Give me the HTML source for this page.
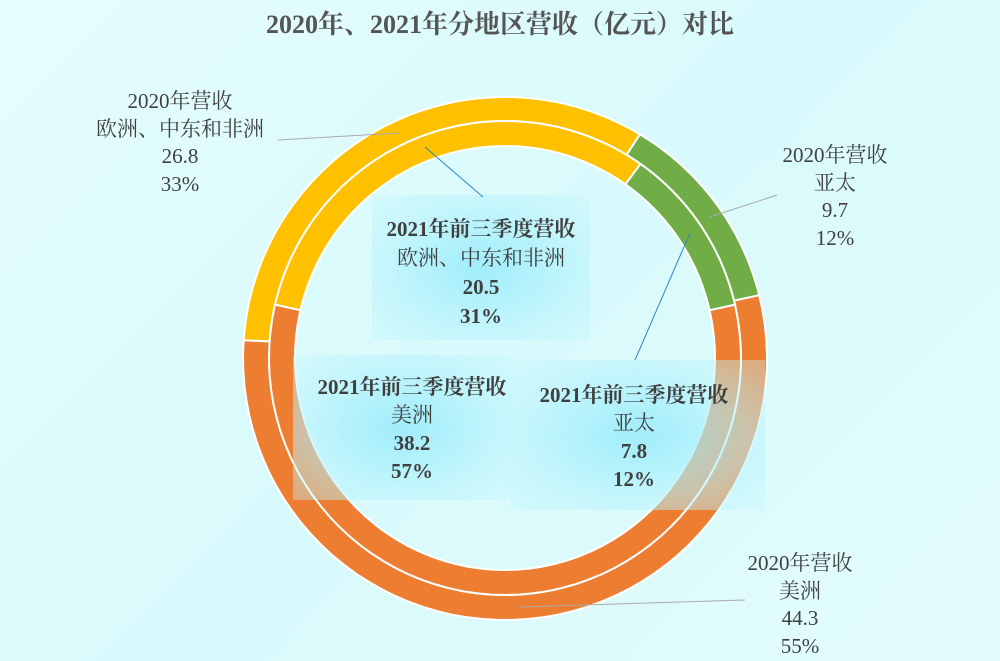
<!DOCTYPE html>
<html><head><meta charset="utf-8"><style>
html,body{margin:0;padding:0;}
body{width:1000px;height:661px;overflow:hidden;position:relative;background:linear-gradient(135deg,#e6fdfd 0%,#d8fafc 50%,#e4fcfd 100%);font-family:"Liberation Serif","Noto Serif CJK SC",serif;color:#404040;}
.t{position:absolute;text-align:center;font-size:21px;line-height:27.5px;white-space:nowrap;}
.b{font-weight:bold;}
.glow{position:absolute;background:radial-gradient(ellipse at center,rgba(150,235,250,0.85) 0%,rgba(180,242,252,0.6) 60%,rgba(200,248,252,0.35) 100%);}
</style></head><body>
<svg id="s" width="1000" height="661" style="position:absolute;left:0;top:0"></svg>
<div class="glow" style="left:372px;top:195px;width:218px;height:145px"></div>
<div class="glow" style="left:293px;top:355px;width:218px;height:145px"></div>
<div class="glow" style="left:510px;top:360px;width:255px;height:150px"></div>
<svg width="1000" height="661" style="position:absolute;left:0;top:0">
<line x1="278" y1="140" x2="400" y2="133" stroke="#aaa" stroke-width="1"/>
<line x1="425" y1="147" x2="483" y2="197" stroke="#2e86c8" stroke-width="1"/>
<line x1="710" y1="217" x2="777" y2="195" stroke="#aaa" stroke-width="1"/>
<line x1="690" y1="233" x2="635" y2="360" stroke="#2e86c8" stroke-width="1"/>
<line x1="520" y1="607" x2="745" y2="600" stroke="#aaa" stroke-width="1"/>
</svg>
<div class="t b" style="left:0;width:1000px;top:9px;font-size:26px;line-height:32px;color:#555">2020年、2021年分地区营收（亿元）对比</div>
<div class="t" style="left:60px;width:240px;top:88px">2020年营收<br>欧洲、中东和非洲<br>26.8<br>33%</div>
<div class="t" style="left:735px;width:200px;top:142px">2020年营收<br>亚太<br>9.7<br>12%</div>
<div class="t" style="left:700px;width:200px;top:550px">2020年营收<br>美洲<br>44.3<br>55%</div>
<div class="t b" style="left:361px;width:240px;top:215px;line-height:29px">2021年前三季度营收<br><span style="font-weight:normal">欧洲、中东和非洲</span><br>20.5<br>31%</div>
<div class="t b" style="left:292px;width:240px;top:373px;line-height:28px">2021年前三季度营收<br><span style="font-weight:normal">美洲</span><br>38.2<br>57%</div>
<div class="t b" style="left:514px;width:240px;top:381px;line-height:28px">2021年前三季度营收<br><span style="font-weight:normal">亚太</span><br>7.8<br>12%</div>
<script>
(function(){
var s=document.getElementById('s');
function pt(cx,cy,rx,ry,a){var r=a*Math.PI/180;return [cx+rx*Math.sin(r),cy-ry*Math.cos(r)];}
function seg(o,i,a0,a1,col){
 var n=60,d='',k,p;
 for(k=0;k<=n;k++){p=pt(o[0],o[1],o[2],o[3],a0+(a1-a0)*k/n);d+=(k?'L':'M')+p[0].toFixed(1)+','+p[1].toFixed(1);}
 for(k=n;k>=0;k--){p=pt(i[0],i[1],i[2],i[3],a0+(a1-a0)*k/n);d+='L'+p[0].toFixed(1)+','+p[1].toFixed(1);}
 d+='Z';
 var e=document.createElementNS('http://www.w3.org/2000/svg','path');
 e.setAttribute('d',d);e.setAttribute('fill',col);e.setAttribute('stroke','#fff');e.setAttribute('stroke-width','2');
 s.appendChild(e);}
var O=[505,358.5,262,261.5],M=[505,358,236,237],I=[505,358,210,212];
seg(O,M,-86,31,'#FFC000');seg(O,M,31,76,'#70AD47');seg(O,M,76,274,'#ED7D31');
seg(M,I,-77,35,'#FFC000');seg(M,I,35,77,'#70AD47');seg(M,I,77,283,'#ED7D31');
})();
</script>
</body></html>
